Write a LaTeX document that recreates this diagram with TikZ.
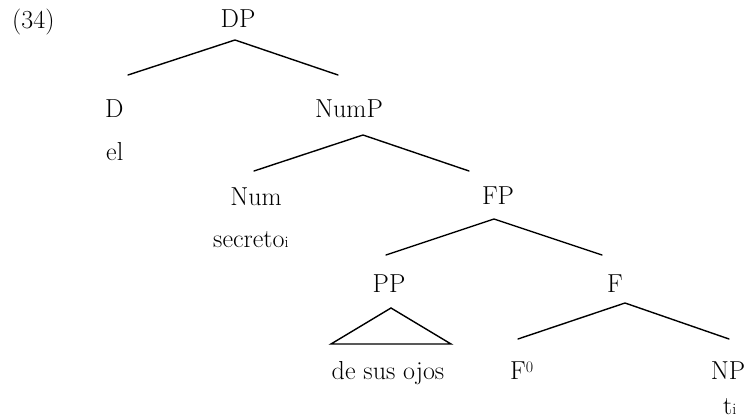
\documentclass[tikz,border=0pt]{standalone}
\usepackage{fontspec}
\newcommand{\smalli}[1]{{\fontsize{16}{18}\selectfont #1}}
\newcommand{\supz}[1]{\raisebox{7.5pt}{\fontsize{16}{18}\selectfont #1}}
\begin{document}
\begin{tikzpicture}[x=1pt,y=-1pt,
  lbl/.style={inner sep=0pt,font=\fontsize{26}{30}\selectfont,anchor=base},
  lblw/.style={lbl,anchor=base west},
  branch/.style={line width=1.4pt,line cap=round,line join=miter}]
\useasboundingbox (0,0) rectangle (748,419);
% labels
\node[lblw] (ex) at (12,29) {(34)};
\node[lbl] (dp) at (238,28) {DP};
\node[lblw] (d) at (105,118) {D};
\node[lblw] (el) at (106,161) {el};
\node[lbl] (nump) at (349,118) {NumP};
\node[lbl] (num) at (256,206) {Num};
\node[lblw] (secreto) at (213,248) {secreto\smalli{i}};
\node[lbl] (fp) at (498,205) {FP};
\node[lbl] (pp) at (389,293) {PP};
\node[lbl] (f) at (615,293) {F};
\node[lbl] (ojos) at (388,380) {de sus ojos};
\node[lblw] (fzero) at (510,380) {F\supz{0}};
\node[lbl] (np) at (728,380) {NP};
\node[lblw] (ti) at (723,415) {t\smalli{i}};
% branch points
\coordinate (dpA) at (235,40);
\coordinate (dpL) at (128,75);
\coordinate (dpR) at (338,75);
\coordinate (numpA) at (363,135);
\coordinate (numpL) at (254,171);
\coordinate (numpR) at (469,171);
\coordinate (fpA) at (494,219);
\coordinate (fpL) at (386,255);
\coordinate (fpR) at (602,255);
\coordinate (fA) at (625,303);
\coordinate (fL) at (518,339);
\coordinate (fR) at (729,339);
\coordinate (ppA) at (391,308);
\coordinate (ppL) at (331,344);
\coordinate (ppR) at (451,344);
% branches
\draw[branch] (dpL) -- (dpA) -- (dpR);
\draw[branch] (numpL) -- (numpA) -- (numpR);
\draw[branch] (fpL) -- (fpA) -- (fpR);
\draw[branch] (fL) -- (fA) -- (fR);
\draw[branch] (ppL) -- (ppA) -- (ppR) -- cycle;
\end{tikzpicture}
\end{document}
